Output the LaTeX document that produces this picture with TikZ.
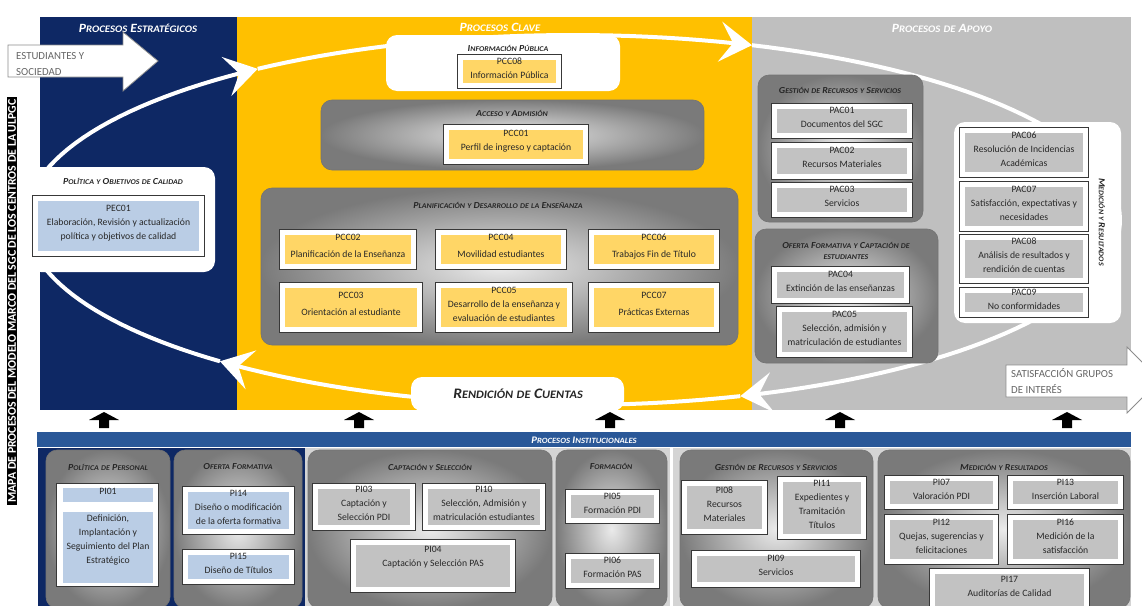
\documentclass[tikz,border=0pt]{standalone}
\usepackage{fontspec}
\setmainfont{Carlito}
\newfontfamily\ttlfamily[FakeStretch=1.08]{Carlito}
\usetikzlibrary{arrows.meta,fit}

\definecolor{navy}{RGB}{14,40,100}
\definecolor{clave}{RGB}{255,192,0}
\definecolor{apoyo}{RGB}{191,191,191}
\definecolor{pccfill}{RGB}{255,214,102}
\definecolor{pfill}{RGB}{194,194,194}
\definecolor{bfill}{RGB}{186,205,229}
\definecolor{instbar}{RGB}{42,88,152}
\definecolor{ink}{RGB}{40,40,40}
\definecolor{botgray}{RGB}{212,212,212}

\newcommand\scsz{\fontsize{6.6}{8}\selectfont}
\newcommand\W[2]{#1{\scsz\MakeUppercase{#2}}}
\newcommand\w[1]{{\scsz\MakeUppercase{#1}}}
\newcommand\ttlS{\ttlfamily\bfseries\itshape\fontsize{9.2}{10.5}\selectfont\renewcommand\scsz{\fontsize{7.3}{8}\selectfont}}
\newcommand\ttlM{\ttlfamily\bfseries\itshape\fontsize{10}{12}\selectfont\renewcommand\scsz{\fontsize{8}{9}\selectfont}}
\newcommand\ttlL{\ttlfamily\bfseries\itshape\fontsize{12.6}{14}\selectfont\renewcommand\scsz{\fontsize{10}{11}\selectfont}}
\newcommand\ttlX{\ttlfamily\bfseries\itshape\fontsize{14.5}{16}\selectfont\renewcommand\scsz{\fontsize{11.4}{12}\selectfont}}
\newcommand\bodyf{\fontsize{9.7}{14}\selectfont}

\tikzset{
  grp/.style={rounded corners=11pt, inner color=black!8, outer color=black!52, draw=black!55, line width=0.6pt, inner sep=0pt},
  wbox/.style={rounded corners=11pt, fill=white, inner sep=0pt},
  pbox/.style={preaction={draw=black!78, line width=7pt}, draw=white, line width=5pt, inner sep=0pt, align=center, font=\bodyf, text=ink},
  gtitle/.style={font=\ttlS, text=black!85, inner sep=0pt, align=center},
  ptitle/.style={font=\ttlL, text=white, inner sep=0pt},
  loopline/.style={draw=white, line width=4pt},
  ahead/.style={-{Stealth[length=32pt,width=40pt,inset=13pt]}},
  txt/.style={align=center, font=\bodyf, text=ink, inner sep=0pt},
  graytxt/.style={align=left, font=\fontsize{10.8}{16}\selectfont, text=black!60, inner sep=0pt, anchor=west},
}
\newcommand\pb[7][pfill]{\node[pbox, fill=#1, fit={(#3+3.5,#4+3.5) (#5-3.5,#6-3.5)}] (#2) {#7};}
\newcommand\gb[5]{\node[grp, fit={(#2,#3) (#4,#5)}] (#1) {};}
\newcommand\wb[5]{\node[wbox, fit={(#2,#3) (#4,#5)}] (#1) {};}

\begin{document}
\begin{tikzpicture}[x=1pt,y=-1pt]
\useasboundingbox (0,0) rectangle (1142,605);

% ---------- top panels
\fill[navy] (40,17) rectangle (237,410);
\fill[clave] (237,17) rectangle (752,410);
\fill[apoyo] (752,17) rectangle (1131,410);

% ---------- loop of the map
\draw[loopline,ahead] plot[domain=180:234.8,samples=30] ({573+547*cos(\x)},{220+185*sin(\x)});
\draw[loopline,ahead] plot[domain=234.8:289.1,samples=30] ({573+547*cos(\x)},{220+185*sin(\x)});
\draw[loopline,ahead] plot[domain=289.1:432.2,samples=80] ({573+547*cos(\x)},{220+185*sin(\x)});
\draw[loopline,ahead] plot[domain=432.2:490.2,samples=30] ({573+547*cos(\x)},{220+185*sin(\x)});
\draw[loopline] plot[domain=490.2:540,samples=30] ({573+547*cos(\x)},{220+185*sin(\x)});

% ---------- panel titles
\node[ptitle] (testr) at (138,28) {\W{P}{rocesos} \W{E}{stratégicos}};
\node[ptitle] (tclave) at (500,27) {\W{P}{rocesos} \W{C}{lave}};
\node[ptitle] (tapoyo) at (942,28) {\W{P}{rocesos} \w{de} \W{A}{poyo}};

% ---------- input / output arrows
\draw[fill=white, draw=black!45, line width=0.8pt] (8,45) -- (123,45) -- (123,32) -- (158,61) -- (123,91) -- (123,77) -- (8,77) -- cycle;
\node[graytxt] (estud) at (16,64) {ESTUDIANTES Y\\SOCIEDAD};
\draw[fill=white, draw=black!45, line width=0.8pt] (1006,365) -- (1127,365) -- (1127,347) -- (1160,380) -- (1127,413) -- (1127,397) -- (1006,397) -- cycle;
\node[graytxt] (satis) at (1011,381) {SATISFACCIÓN GRUPOS\\DE INTERÉS};

% ---------- estrategicos
\wb{polbox}{30}{167}{215}{272}
\node[gtitle] (tpol) at (123,181) {\W{P}{olítica} \w{y} \W{O}{bjetivos} \w{de} \W{C}{alidad}};
\pb[bfill]{pec01}{32}{195}{205}{257}{PEC01\\Elaboración, Revisión y actualización\\política y objetivos de calidad}

% ---------- clave
\wb{infbox}{386}{35}{620}{91}
\node[gtitle] (tinf) at (508,48) {\W{I}{nformación} \W{P}{ública}};
\pb[pccfill]{pcc08}{457}{54}{562}{89}{PCC08\\Información Pública}

\gb{accbox}{321}{100}{704}{170}
\node[gtitle] (tacc) at (512,113) {\W{A}{cceso} \w{y} \W{A}{dmisión}};
\pb[pccfill]{pcc01}{443}{124}{589}{165}{PCC01\\Perfil de ingreso y captación}

\gb{plabox}{261}{188}{738}{345}
\node[gtitle] (tpla) at (498,205) {\W{P}{lanificación} \w{y} \W{D}{esarrollo} \w{de} \w{la} \W{E}{nseñanza}};
\pb[pccfill]{pcc02}{279}{229}{417}{270}{PCC02\\[3pt]Planificación de la Enseñanza}
\pb[pccfill]{pcc04}{435}{229}{567}{270}{PCC04\\[3pt]Movilidad estudiantes}
\pb[pccfill]{pcc06}{588}{229}{720}{270}{PCC06\\[3pt]Trabajos Fin de Título}
\pb[pccfill]{pcc03}{279}{282}{423}{333}{PCC03\\[3pt]Orientación al estudiante}
\pb[pccfill]{pcc05}{435}{282}{573}{333}{PCC05\\Desarrollo de la enseñanza y\\evaluación de estudiantes}
\pb[pccfill]{pcc07}{588}{282}{720}{333}{PCC07\\[3pt]Prácticas Externas}

\wb{rendbox}{411}{377}{624}{411}
\node[font=\ttlX, text=black!85, inner sep=0pt] (trend) at (518,394) {\W{R}{endición} \w{de} \W{C}{uentas}};

% ---------- apoyo
\gb{gesbox}{758}{75}{923}{222}
\node[gtitle] (tges) at (840,90) {\W{G}{estión} \w{de} \W{R}{ecursos} \w{y} \W{S}{ervicios}};
\pb{pac01}{771}{103}{913}{139}{PAC01\\Documentos del SGC}
\pb{pac02}{771}{142}{913}{180}{PAC02\\Recursos Materiales}
\pb{pac03}{771}{182}{913}{218}{PAC03\\Servicios}

\gb{ofebox}{755}{229}{938}{363}
\node[gtitle] (tofe) at (846,251) {\W{O}{ferta} \W{F}{ormativa} \w{y} \W{C}{aptación} \w{de}\\\w{estudiantes}};
\pb{pac04}{771}{266}{910}{304}{PAC04\\Extinción de las enseñanzas}
\pb{pac05}{776}{306}{913}{358}{PAC05\\Selección, admisión y\\matriculación de estudiantes}

\wb{medbox}{954}{122}{1121}{323}
\node[gtitle, rotate=-90] (tmedv) at (1102,222) {\W{M}{edición} \w{y} \W{R}{esultados}};
\pb{pac06}{959}{127}{1089}{178}{PAC06\\Resolución de Incidencias\\Académicas}
\pb{pac07}{959}{181}{1089}{232}{PAC07\\Satisfacción, expectativas y\\necesidades}
\pb{pac08}{959}{234}{1089}{284}{PAC08\\Análisis de resultados y\\rendición de cuentas}
\pb{pac09}{959}{287}{1089}{318}{PAC09\\No conformidades}

% ---------- up arrows
\foreach \ax in {104,359,610,840,1067}{
  \fill[black] (\ax-5,428) -- (\ax-5,420) -- (\ax-15,420) -- (\ax,412) -- (\ax+15,420) -- (\ax+5,420) -- (\ax+5,428) -- cycle;
}

% ---------- institucionales
\fill[instbar] (37,432) rectangle (1131,447);
\node[font=\ttlM, text=white, inner sep=0pt] (tinst) at (584,440) {\W{P}{rocesos} \W{I}{nstitucionales}};
\fill[navy] (38,448) rectangle (305,606);
\fill[botgray] (305,448) rectangle (670,606);
\fill[botgray] (673,448) rectangle (1131,606);

\gb{perbox}{46}{450}{170}{608}
\node[gtitle] (tper) at (108,467) {\W{P}{olítica} \w{de} \W{P}{ersonal}};
\pb[white]{pi01}{56}{483}{159}{587}{}
\node[fill=bfill, inner sep=0pt, fit={(63,488) (153,502)}, font=\bodyf, text=ink] (pi01h) {PI01};
\node[fill=bfill, inner sep=0pt, fit={(63,512) (153,583)}] (pi01b) {};
\node[txt, font=\fontsize{9.7}{14.3}\selectfont] (pi01t) at (108,540) {Definición,\\Implantación y\\Seguimiento del Plan\\Estratégico};

\gb{ofbox}{174}{450}{302}{608}
\node[gtitle] (tof) at (238,467) {\W{O}{ferta} \W{F}{ormativa}};
\pb[bfill]{pi14}{182}{486}{295}{535}{PI14\\Diseño o modificación\\de la oferta formativa}
\pb[bfill]{pi15}{182}{549}{295}{585}{PI15\\Diseño de Títulos}

\gb{capbox}{308}{450}{552}{608}
\node[gtitle] (tcap) at (430,467) {\W{C}{aptación} \w{y} \W{S}{elección}};
\pb{pi03}{312}{483}{416}{531}{PI03\\Captación y\\Selección PDI}
\pb{pi10}{422}{483}{546}{531}{PI10\\Selección, Admisión y\\matriculación estudiantes}
\pb{pi04}{350}{539}{516}{593}{}
\node[txt] (pi04t) at (433,557) {PI04\\Captación y Selección PAS};

\gb{forbox}{556}{450}{667}{608}
\node[gtitle] (tfor) at (611,466) {\W{F}{ormación}};
\pb{pi05}{565}{489}{660}{524}{PI05\\Formación PDI}
\pb{pi06}{565}{553}{660}{589}{PI06\\Formación PAS}

\gb{grsbox}{680}{450}{873}{608}
\node[gtitle] (tgrs) at (776,467) {\W{G}{estión} \w{de} \W{R}{ecursos} \w{y} \W{S}{ervicios}};
\pb{pi08}{681}{480}{768}{535}{PI08\\Recursos\\Materiales}
\pb{pi11}{777}{476}{867}{540}{PI11\\Expedientes y\\Tramitación\\Títulos}
\pb{pi09}{691}{550}{861}{588}{PI09\\Servicios}

\gb{mrbox}{878}{450}{1130}{608}
\node[gtitle] (tmr) at (1004,467) {\W{M}{edición} \w{y} \W{R}{esultados}};
\pb{pi07}{884}{475}{999}{510}{PI07\\Valoración PDI}
\pb{pi13}{1007}{475}{1124}{510}{PI13\\Inserción Laboral}
\pb{pi12}{884}{514}{999}{565}{PI12\\Quejas, sugerencias y\\felicitaciones}
\pb{pi16}{1007}{514}{1124}{565}{PI16\\Medición de la\\satisfacción}
\pb{pi17}{929}{568}{1090}{612}{PI17\\Auditorías de Calidad\\[4pt]}

% ---------- vertical label
\node[rotate=90, fill=black, text=white, font=\bfseries\fontsize{11.8}{12}\selectfont, inner xsep=2pt, inner ysep=1.5pt] (vlabel) at (12,301) {MAPA DE PROCESOS DEL MODELO MARCO DEL SGC DE LOS CENTROS DE LA ULPGC};
\end{tikzpicture}
\end{document}
